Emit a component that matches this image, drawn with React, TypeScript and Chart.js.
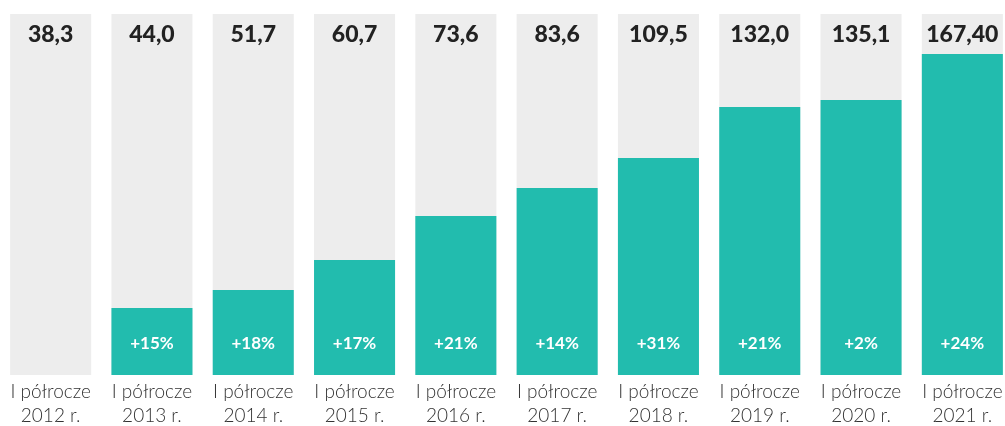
import React, { useEffect, useRef } from "react";
import { Chart, registerables } from "chart.js";

Chart.register(...registerables);

// Categories (two-line labels)
const categoryLines: string[][] = [
  ["I półrocze", "2012 r."],
  ["I półrocze", "2013 r."],
  ["I półrocze", "2014 r."],
  ["I półrocze", "2015 r."],
  ["I półrocze", "2016 r."],
  ["I półrocze", "2017 r."],
  ["I półrocze", "2018 r."],
  ["I półrocze", "2019 r."],
  ["I półrocze", "2020 r."],
  ["I półrocze", "2021 r."],
];

// Values printed at the top of each column
const valueLabels: string[] = ["38,3", "44,0", "51,7", "60,7", "73,6", "83,6", "109,5", "132,0", "135,1", "167,40"];

// Growth labels printed inside the teal bars
const growthLabels: string[] = ["", "+15%", "+18%", "+17%", "+21%", "+14%", "+31%", "+21%", "+2%", "+24%"];

// Teal bar heights as drawn in the picture (same units as the values)
const barHeights: number[] = [0, 34.9, 44.3, 60.0, 82.9, 97.5, 113.2, 139.8, 143.4, 167.4];

// Full-height grey background columns
const axisMax = 188.3;
const backgroundHeights: number[] = categoryLines.map(() => axisMax);

const TEAL = "#22bcae";
const GREY = "#ededed";

const labelPlugin = {
  id: "labelPlugin",
  afterDatasetsDraw(chart: any) {
    const { ctx, scales } = chart;
    const x = scales.x;
    const y = scales.y;
    const top = y.getPixelForValue(axisMax);
    const base = y.getPixelForValue(0);
    ctx.save();
    ctx.textAlign = "center";
    ctx.textBaseline = "middle";
    categoryLines.forEach((lines, i) => {
      const cx = x.getPixelForValue(i);
      ctx.fillStyle = "#222222";
      ctx.font = "900 23px Lato";
      ctx.fillText(valueLabels[i], cx, top + 21);
      if (growthLabels[i]) {
        ctx.fillStyle = "#ffffff";
        ctx.font = "bold 17px Lato";
        ctx.fillText(growthLabels[i], cx, base - 31);
      }
      ctx.fillStyle = "#333333";
      ctx.font = "300 19px Lato";
      ctx.fillText(lines[0], cx, base + 17);
      ctx.fillText(lines[1], cx, base + 41);
    });
    ctx.restore();
  },
};

export default function App() {
  const ref = useRef<HTMLCanvasElement>(null);
  useEffect(() => {
    if (!ref.current) return;
    const chart = new Chart(ref.current, {
      type: "bar",
      data: {
        labels: categoryLines.map((l) => l.join(" ")),
        datasets: [
          {
            data: barHeights,
            backgroundColor: TEAL,
            borderWidth: 0,
            grouped: false,
            order: 0,
            categoryPercentage: 1,
            barPercentage: 0.8,
          } as any,
          {
            data: backgroundHeights,
            backgroundColor: GREY,
            borderWidth: 0,
            grouped: false,
            order: 1,
            categoryPercentage: 1,
            barPercentage: 0.8,
          } as any,
        ],
      },
      options: {
        animation: false,
        responsive: false,
        layout: { padding: { top: 14, bottom: 51, left: 0, right: 0 } },
        plugins: { legend: { display: false }, tooltip: { enabled: false } },
        scales: {
          x: { display: false },
          y: { display: false, min: 0, max: axisMax },
        },
      },
      plugins: [labelPlugin],
    });
    return () => chart.destroy();
  }, []);
  return (
    <div style={{ position: "absolute", left: 0, top: 0, width: 1005, height: 426, overflow: "hidden", background: "#fff" }}>
      <canvas ref={ref} width={1013} height={426} style={{ display: "block" }} />
    </div>
  );
}
